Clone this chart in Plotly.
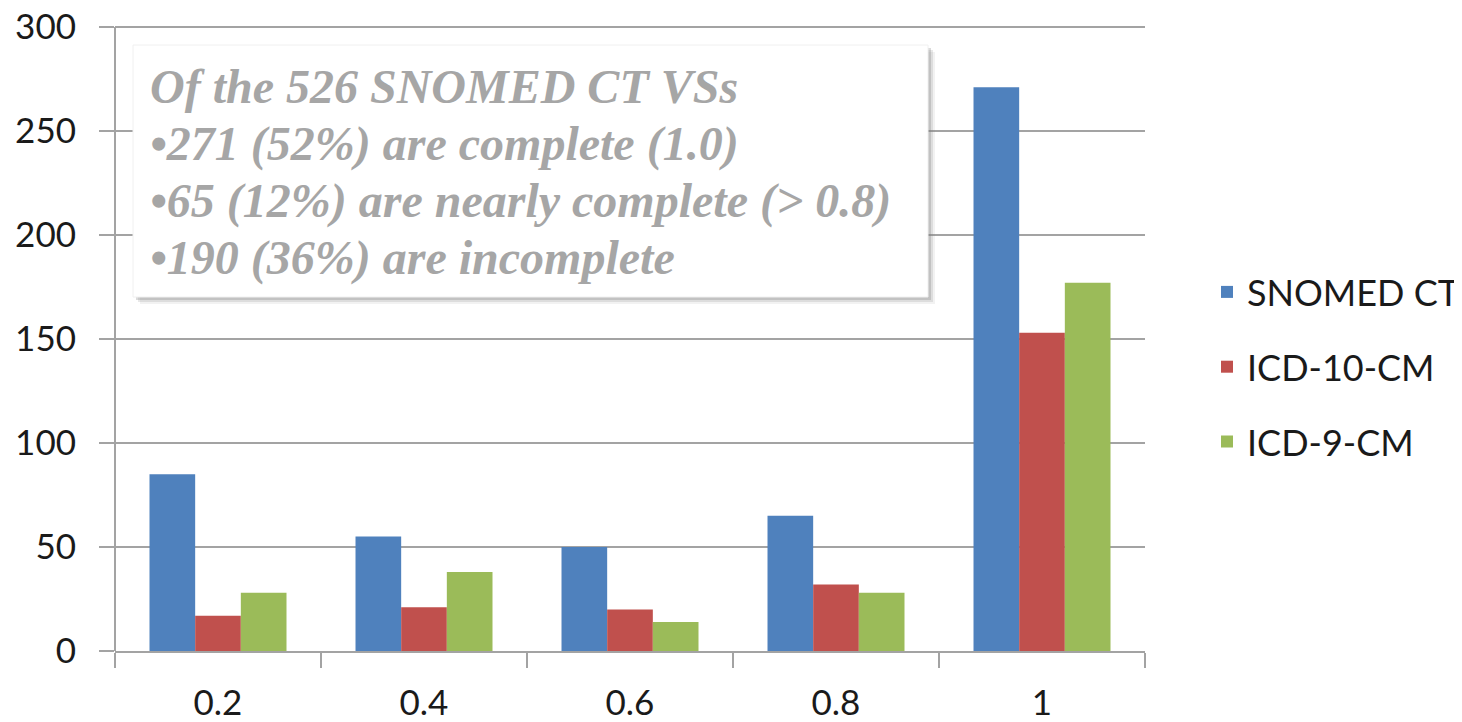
import plotly.graph_objects as go

categories = ["0.2", "0.4", "0.6", "0.8", "1"]
snomed = [85, 55, 50, 65, 271]
icd10 = [17, 21, 20, 32, 153]
icd9 = [28, 38, 14, 28, 177]
series_names = ["SNOMED CT", "ICD-10-CM", "ICD-9-CM"]
series_colors = ["#4F81BD", "#C0504D", "#9BBB59"]
y_ticks = [0, 50, 100, 150, 200, 250, 300]
note_lines = [
    "Of the 526 SNOMED CT VSs",
    "•271 (52%) are complete (1.0)",
    "•65 (12%) are nearly complete (> 0.8)",
    "•190 (36%) are incomplete",
]

OFF = 8  # page body offset
W, H = 1462 - OFF, 722 - OFF
# target positions in window pixels (plot top a little above the 300 gridline)
L, R, T, B = 115, 1145, 24, 651
Y300 = 27
pw, ph = R - L, B - T
y_top = 300 * (B - T) / (B - Y300)

def px(x):
    return (x - L) / pw

def py(y):
    return (B - y) / ph

fig = go.Figure()
for name, vals, col in zip(series_names, [snomed, icd10, icd9], series_colors):
    fig.add_trace(go.Bar(x=categories, y=vals, name=name, marker_color=col,
                         marker_line_width=0, legendgroup=name))

grid = "#A3A3A3"
tick_font = dict(size=35, family="Lato", color="#1a1a1a")
fig.update_layout(
    width=W, height=H,
    margin=dict(l=L - OFF, r=W - (R - OFF), t=T - OFF, b=H - (B - OFF), pad=0,
                autoexpand=False),
    paper_bgcolor="white", plot_bgcolor="white",
    barmode="group", bargap=0.335, bargroupgap=0,
    font=dict(family="Lato", color="#1a1a1a"),
    legend=dict(x=px(1207), y=py(367), xanchor="left", yanchor="middle",
                font=dict(size=36, family="Lato", color="#1a1a1a"),
                tracegroupgap=25, itemclick=False),
    showlegend=True,
)
fig.update_xaxes(type="category", showline=True, linecolor=grid, linewidth=2,
                 ticks="outside", tickson="boundaries", ticklen=15, tickwidth=2,
                 tickcolor=grid, tickfont=tick_font, ticklabeloverflow="allow",
                 ticklabelstandoff=20, showgrid=False, zeroline=False, automargin=False)
fig.update_yaxes(range=[0, y_top], tickvals=y_ticks, showline=False,
                 ticks="outside", ticklen=15, tickwidth=2, tickcolor=grid,
                 showgrid=True, gridcolor=grid, gridwidth=2, zeroline=False,
                 tickfont=tick_font, ticklabelstandoff=16, automargin=False,
                 ticklabeloverflow="allow")

# y-axis line from 0 up to the 300 gridline
fig.add_shape(type="line", xref="paper", yref="y", x0=0, x1=0, y0=0, y1=300,
              line=dict(color=grid, width=2), layer="below")

# note box with soft shadow
bx0, bx1, by0, by1 = 133, 928, 45, 297
for off, op in [(7, 0.10), (5, 0.18), (3, 0.28)]:
    fig.add_shape(type="rect", xref="paper", yref="paper",
                  x0=px(bx0 + off), x1=px(bx1 + off), y0=py(by1 + off), y1=py(by0 + off),
                  fillcolor="#7f7f7f", opacity=op, line_width=0, layer="above")
fig.add_shape(type="rect", xref="paper", yref="paper",
              x0=px(bx0), x1=px(bx1), y0=py(by1), y1=py(by0),
              fillcolor="white", line=dict(color="#f0f0f0", width=1), layer="above")

line_y = [87, 144, 201, 258]
for txt, yy in zip(note_lines, line_y):
    fig.add_annotation(text=txt, xref="paper", yref="paper", x=px(148), y=py(yy),
                       xanchor="left", yanchor="middle", showarrow=False,
                       font=dict(family="Liberation Serif", size=48, color="#A6A6A6",
                                 weight="bold", style="italic"))

fig.write_html("out.html", config={"displayModeBar": False})
